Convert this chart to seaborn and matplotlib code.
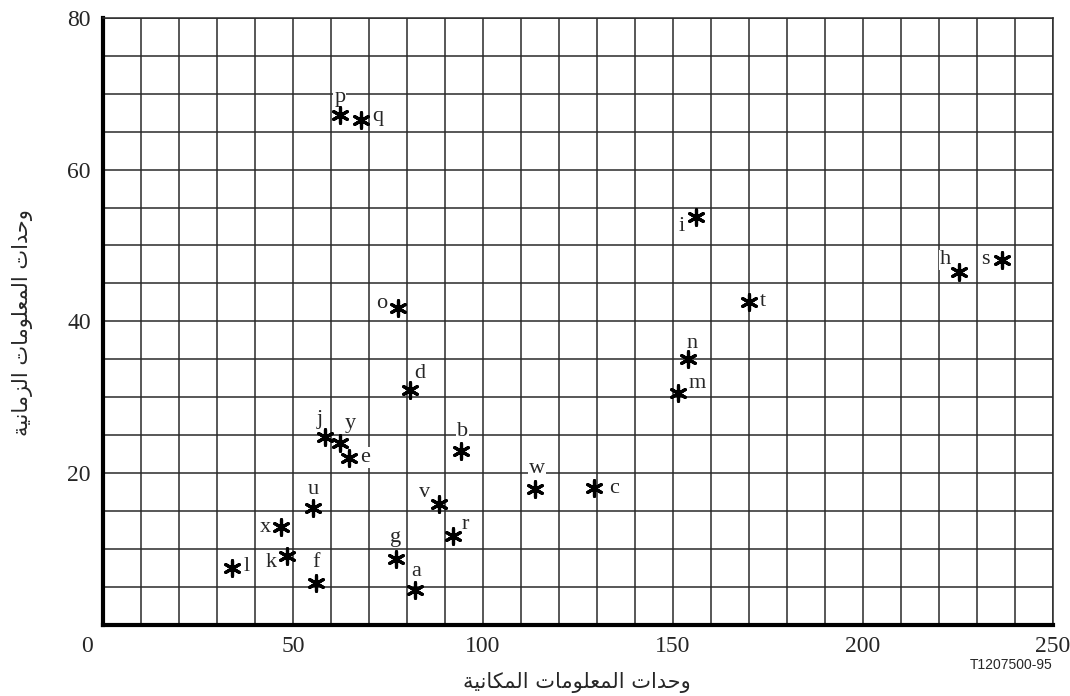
import matplotlib
matplotlib.use('Agg')
import matplotlib.pyplot as plt
import matplotlib.transforms as mtransforms
import pandas as pd
import seaborn as sns

# data (space units vs time units)
labels = ['a', 'b', 'c', 'd', 'e', 'f', 'g', 'h', 'i', 'j', 'k', 'l', 'm',
          'n', 'o', 'p', 'q', 'r', 's', 't', 'u', 'v', 'w', 'x', 'y']
space_units = [82.1, 94.2, 129.1, 80.7, 64.6, 55.9, 77.1, 225.2, 156.0, 58.3,
               48.4, 33.9, 151.4, 154.0, 77.5, 62.3, 67.8, 92.1, 236.7, 170.0,
               55.3, 88.3, 113.7, 46.8, 62.3]
time_units = [4.6, 22.9, 18.0, 31.0, 21.9, 5.5, 8.6, 46.5, 53.7, 24.7,
              9.0, 7.4, 30.5, 35.0, 41.8, 67.2, 66.6, 11.7, 48.1, 42.6,
              15.4, 15.9, 17.9, 12.8, 24.0]
x_ticks = [0, 50, 100, 150, 200, 250]
y_ticks = [20, 40, 60, 80]
x_title = 'وحدات المعلومات المكانية'
y_title = 'وحدات المعلومات الزمانية'
fig_code = 'T1207500-95'

# label placement relative to the marker (pixels)
label_offsets = {
    'a': (1, 18), 'b': (1, 19), 'c': (20, 0), 'd': (10, 16), 'e': (16, 1),
    'f': (0, 20), 'g': (-1, 22), 'h': (-13, 12), 'i': (-14, -9), 'j': (-5, 18),
    'k': (-16, -6), 'l': (15, 2), 'm': (19, 10), 'n': (4, 16), 'o': (-16, 4),
    'p': (0, 18), 'q': (17, 3), 'r': (12, 11), 's': (-17, 0), 't': (14, 0),
    'u': (0, 18), 'v': (-14, 11), 'w': (2, 20), 'x': (-16, 0), 'y': (10, 19),
}


# --- tiny Arabic shaper (presentation forms, then reverse for RTL) ---------
# iso, fin, ini, med
FORMS = {
    'ا': ('\uFE8D', '\uFE8E', None, None),
    'ة': ('\uFE93', '\uFE94', None, None),
    'ت': ('\uFE95', '\uFE96', '\uFE97', '\uFE98'),
    'ح': ('\uFEA1', '\uFEA2', '\uFEA3', '\uFEA4'),
    'د': ('\uFEA9', '\uFEAA', None, None),
    'ز': ('\uFEAF', '\uFEB0', None, None),
    'ع': ('\uFEC9', '\uFECA', '\uFECB', '\uFECC'),
    'ك': ('\uFED9', '\uFEDA', '\uFEDB', '\uFEDC'),
    'ل': ('\uFEDD', '\uFEDE', '\uFEDF', '\uFEE0'),
    'م': ('\uFEE1', '\uFEE2', '\uFEE3', '\uFEE4'),
    'ن': ('\uFEE5', '\uFEE6', '\uFEE7', '\uFEE8'),
    'ي': ('\uFEF1', '\uFEF2', '\uFEF3', '\uFEF4'),
    'و': ('\uFEED', '\uFEEE', None, None),
}


def shape_arabic(text):
    out = []
    for i, ch in enumerate(text):
        if ch not in FORMS:
            out.append(ch)
            continue
        prev = text[i - 1] if i > 0 else ''
        nxt = text[i + 1] if i + 1 < len(text) else ''
        join_prev = prev in FORMS and FORMS[prev][2] is not None
        join_next = nxt in FORMS and FORMS[ch][2] is not None
        iso, fin, ini, med = FORMS[ch]
        if join_prev and join_next:
            out.append(med)
        elif join_prev:
            out.append(fin)
        elif join_next:
            out.append(ini)
        else:
            out.append(iso)
    return ''.join(out)[::-1]


df = pd.DataFrame({'label': labels, 'x': space_units, 'y': time_units})

sns.set_style('white')
plt.rcParams['font.family'] = ['Liberation Serif', 'DejaVu Serif']

fig = plt.figure(figsize=(10.7, 6.96), dpi=100)
ax = fig.add_axes([0.0965, 0.1027, 0.8875, 0.8714])

sns.scatterplot(data=df, x='x', y='y', marker=(6, 2, 0), s=125,
                color='black', linewidth=2.3, ax=ax, zorder=4, legend=False)

for lab, xv, yv in zip(labels, space_units, time_units):
    dx, dy = label_offsets[lab]
    ax.annotate(lab, (xv, yv), xytext=(dx, dy), textcoords='offset pixels',
                ha='center', va='center', fontsize=16, zorder=3,
                bbox=dict(facecolor='white', edgecolor='none', pad=0.6))

ax.set_xlim(0, 250)
ax.set_ylim(0, 80)
ax.set_xticks(x_ticks)
ax.set_yticks(y_ticks)
ax.set_xticks(range(0, 251, 10), minor=True)
ax.set_yticks(range(0, 81, 5), minor=True)
ax.tick_params(which='both', length=0, labelsize=17)
ax.tick_params(axis='x', pad=8)
ax.tick_params(axis='y', pad=9)
ax.grid(True, which='both', color='#2a2a2a', linewidth=1.1)
ax.set_axisbelow(True)

# origin label sits left of the corner
first = ax.get_xticklabels()[0]
first.set_transform(first.get_transform() +
                    mtransforms.ScaledTranslation(-0.16, 0, fig.dpi_scale_trans))

for side in ['left', 'bottom']:
    ax.spines[side].set_linewidth(3)
    ax.spines[side].set_color('black')
for side in ['top', 'right']:
    ax.spines[side].set_linewidth(1.1)
    ax.spines[side].set_color('#2a2a2a')

ax.set_xlabel('')
ax.set_ylabel('')
fig.text(0.539, 0.019, shape_arabic(x_title), ha='center', va='center',
         fontsize=15, family=['DejaVu Sans'])
fig.text(0.021, 0.537, shape_arabic(y_title), ha='center', va='center',
         rotation=90, fontsize=15, family=['DejaVu Sans'])
fig.text(0.984, 0.044, fig_code, ha='right', va='center',
         fontsize=10, family=['Liberation Sans'])

plt.savefig('out.png', dpi=100)
plt.close()
